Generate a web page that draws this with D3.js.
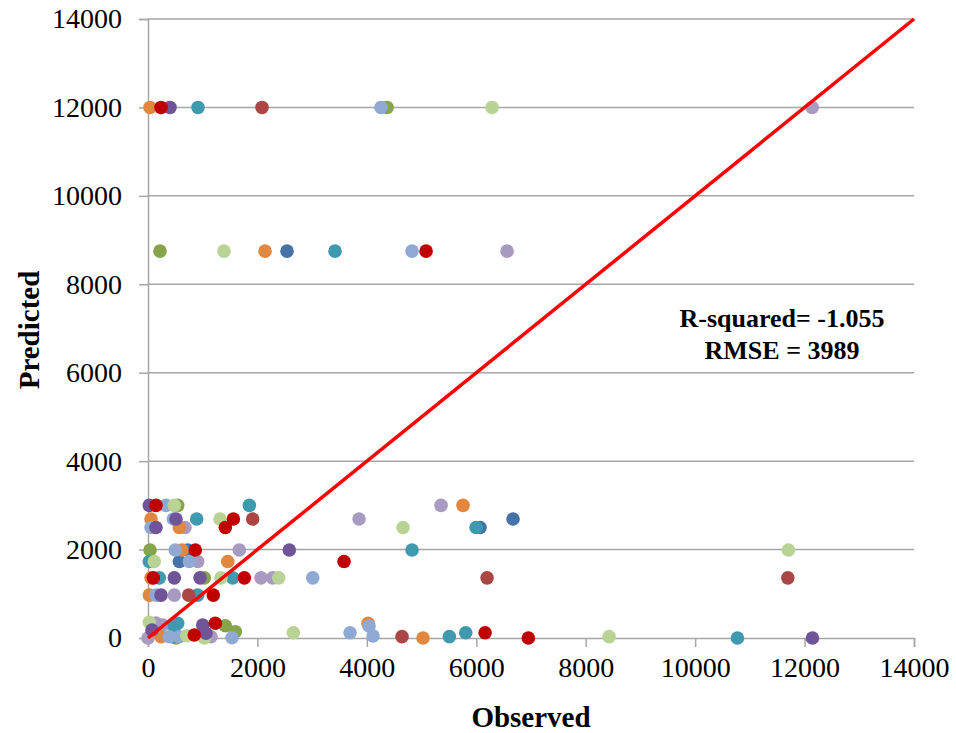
<!DOCTYPE html>
<html>
<head>
<meta charset="utf-8">
<script src="https://cdn.jsdelivr.net/npm/d3@7"></script>
<style>
  body { margin: 0; background: #fff; }
  text { font-family: "Liberation Serif", "Times New Roman", serif; fill: #000; }
</style>
</head>
<body>
<svg width="956" height="733"></svg>
<script>
// observed vs predicted, one array per marker colour [observed, predicted]
const orange   = [[37,12000],[2139,8750],[5758,3000],[55,2690],[573,2500],[622,1990],[1457,1730],[55,1360],[24,970],[238,29],[4022,333],[5027,0]];
const red      = [[238,12000],[5082,8750],[146,3000],[1560,2690],[1413,2500],[865,1990],[3583,1730],[97,1360],[1761,1360],[1194,970],[846,68],[1230,333],[6161,120],[6952,0]];
const purple   = [[402,12000],[24,3000],[512,2690],[146,2500],[2583,1990],[481,1360],[951,1360],[238,970],[73,181],[1000,294],[1060,106],[12144,0]];
const teal     = [[914,12000],[3418,8750],[1852,3000],[890,2690],[5996,2500],[4826,1990],[24,1730],[207,1360],[1548,1360],[908,970],[481,256],[543,333],[451,29],[5508,30],[5807,120],[10773,0]];
const darkred  = [[2084,12000],[1913,2690],[6197,1360],[11694,1360],[744,970],[4643,30]];
const lightblue= [[4259,12000],[4826,8750],[329,3000],[463,2690],[55,2500],[499,1990],[755,1730],[3011,1360],[146,970],[389,29],[572,29],[1536,7],[3693,120],[4040,271],[4113,45]];
const green    = [[4369,12000],[219,8750],[543,3000],[37,1990],[1029,1360],[512,0],[1413,278],[1596,143]];
const lightgreen=[[6289,12000],[1389,8750],[481,3000],[1316,2690],[4661,2500],[11705,1990],[115,1730],[1334,1360],[2389,1360],[24,355],[707,52],[1029,0],[2656,120],[8427,30]];
const blue     = [[2541,8750],[6672,2690],[6069,2500],[725,1990],[573,1730]];
const lavender = [[12138,12000],[6563,8750],[5356,3000],[3857,2690],[676,2500],[1669,1990],[908,1730],[2066,1360],[2279,1360],[481,970],[0,0],[146,339],[269,294],[1152,29]];

const series = [
  {name: "blue", color: "#4572A7", data: blue},
  {name: "green", color: "#86A44A", data: green},
  {name: "lavender", color: "#A89AC1", data: lavender},
  {name: "teal", color: "#3F9AB0", data: teal},
  {name: "orange", color: "#E2873E", data: orange},
  {name: "lightblue", color: "#90A9D4", data: lightblue},
  {name: "darkred", color: "#AA4644", data: darkred},
  {name: "lightgreen", color: "#B8D393", data: lightgreen},
  {name: "purple", color: "#6F5497", data: purple},
  {name: "red", color: "#C00000", data: red}
];

const ticks = [0, 2000, 4000, 6000, 8000, 10000, 12000, 14000];
const rSquared = "-1.055";
const rmse = "3989";

const margin = {left: 148, right: 42, top: 19, bottom: 95};
const width = 956, height = 733;
const svg = d3.select("svg");

const x = d3.scaleLinear().domain([0, 14000]).range([margin.left, width - margin.right]);
const y = d3.scaleLinear().domain([0, 14000]).range([height - margin.bottom, margin.top]);
const grey = "#A6A6A6";

// gridlines
svg.append("g")
  .selectAll("line")
  .data(ticks.filter(d => d > 0))
  .enter()
  .append("line")
  .attr("x1", x(0)).attr("x2", x(14000))
  .attr("y1", d => y(d)).attr("y2", d => y(d))
  .attr("stroke", grey).attr("stroke-width", 1.5);

// axes
const xAxis = svg.append("g")
  .attr("transform", `translate(0,${y(0)})`)
  .call(d3.axisBottom(x).tickValues(ticks).tickSize(9).tickPadding(10).tickFormat(d3.format("d")));
const yAxis = svg.append("g")
  .attr("transform", `translate(${x(0)},0)`)
  .call(d3.axisLeft(y).tickValues(ticks).tickSize(9).tickPadding(17).tickFormat(d3.format("d")));

[xAxis, yAxis].forEach(g => {
  g.select(".domain").attr("stroke", grey).attr("stroke-width", 1.5);
  g.selectAll(".tick line").attr("stroke", grey).attr("stroke-width", 1.5);
  g.selectAll(".tick text")
    .attr("font-family", "Liberation Serif")
    .attr("font-size", 28)
    .attr("fill", "#000");
});

// points
series.forEach(s => {
  svg.append("g")
    .selectAll("circle")
    .data(s.data)
    .enter()
    .append("circle")
    .attr("cx", d => x(d[0]))
    .attr("cy", d => y(d[1]))
    .attr("r", 6.8)
    .attr("fill", s.color);
});

// 1:1 line
svg.append("line")
  .attr("x1", x(0)).attr("y1", y(0))
  .attr("x2", x(14000)).attr("y2", y(14000))
  .attr("stroke", "#FF0000")
  .attr("stroke-width", 3.5);

// axis titles
svg.append("text")
  .attr("x", (x(0) + x(14000)) / 2)
  .attr("y", 727)
  .attr("text-anchor", "middle")
  .attr("font-weight", "bold")
  .attr("font-size", 29)
  .text("Observed");

svg.append("text")
  .attr("transform", `translate(39,330) rotate(-90)`)
  .attr("text-anchor", "middle")
  .attr("font-weight", "bold")
  .attr("font-size", 29)
  .text("Predicted");

// stats
const stats = svg.append("g").attr("font-weight", "bold").attr("font-size", 26).attr("text-anchor", "middle");
stats.append("text").attr("x", 782).attr("y", 327).text(`R-squared= ${rSquared}`);
stats.append("text").attr("x", 782).attr("y", 359).text(`RMSE = ${rmse}`);
</script>
</body>
</html>
